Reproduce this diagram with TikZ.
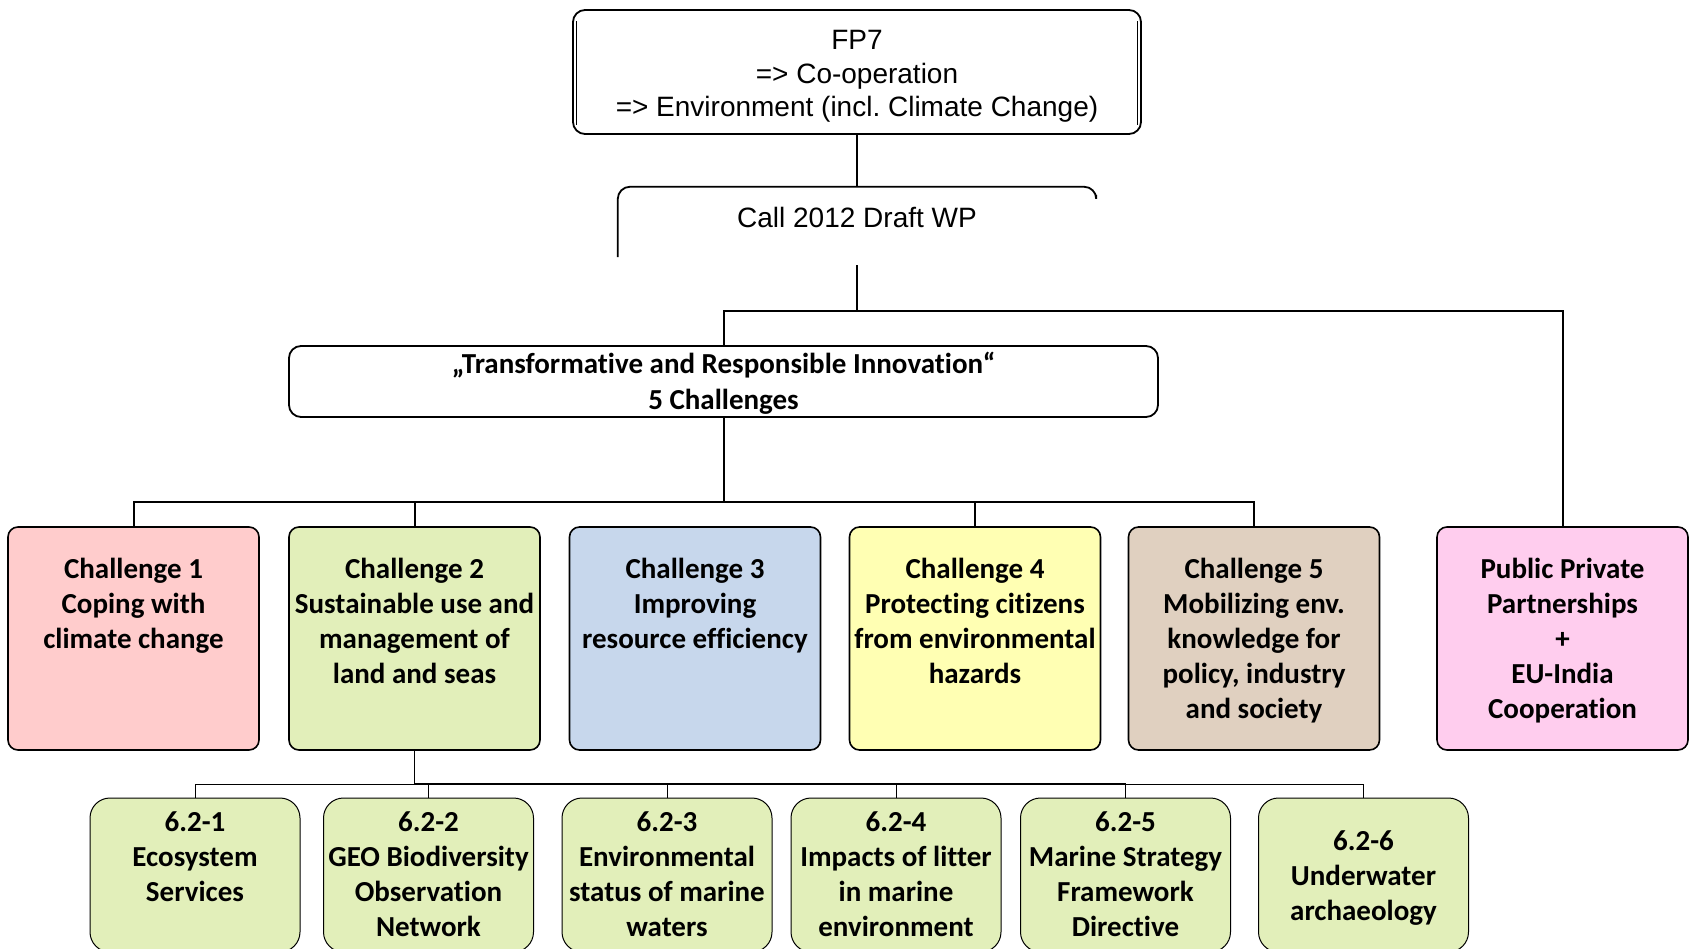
\documentclass[tikz,border=0pt]{standalone}
\usepackage{fontspec}
\setmainfont{Carlito}[Ligatures=NoCommon]
\newfontfamily\arialf{Liberation Sans}
\frenchspacing
\definecolor{cpink}{HTML}{FFCCCC}
\definecolor{cgreen}{HTML}{E2EFBA}
\definecolor{cblue}{HTML}{C7D7EC}
\definecolor{cyellow}{HTML}{FFFFB3}
\definecolor{ctan}{HTML}{E0D0C0}
\definecolor{cmag}{HTML}{FFCDEE}
\newcommand\chaltext[1]{\parbox[t][223pt][t]{251pt}{\centering\rule{0pt}{51pt}#1}}
\newcommand\subtext[2][33pt]{\parbox[t][154pt][t]{210pt}{\centering\rule{0pt}{#1}#2}}
\newcommand\shiftdown[2]{\raisebox{-#1}[\height][\depth]{\begin{tabular}{@{}c@{}}#2\end{tabular}}}
\begin{document}
\begin{tikzpicture}[x=1pt,y=-1pt,
  toptext/.style={font=\arialf\fontsize{28}{33.5}\selectfont},
  chal/.style={draw, line width=1.6pt, rounded corners=10pt, inner sep=0pt,
     font=\bfseries\fontsize{29}{35}\selectfont, fill=#1},
  sub/.style={draw, line width=1pt, rounded corners=20pt, inner sep=0pt,
     font=\bfseries\fontsize{29}{35}\selectfont, fill=cgreen},
  conn/.style={line width=2pt},
  thin/.style={line width=1pt},
  mid/.style={line width=1.8pt}]
\useasboundingbox (0,0) rectangle (1692,949);
\clip (0,0) rectangle (1692,949);

% top boxes
\node[toptext, draw, line width=1.8pt, rounded corners=12pt, minimum width=568pt, minimum height=124pt, inner sep=0pt]
  (fp7) at (857,72) {\shiftdown{4.5pt}{FP7\\=> Co-operation\\=> Environment (incl. Climate Change)}};
\draw[line width=1pt] ([xshift=4pt,yshift=-12pt]fp7.north west) -- ([xshift=4pt,yshift=10pt]fp7.south west);
\draw[line width=1pt] ([xshift=-4pt,yshift=-12pt]fp7.north east) -- ([xshift=-4pt,yshift=10pt]fp7.south east);

\node[toptext, minimum width=478pt, minimum height=60pt, inner sep=0pt]
  (call) at (857,217) {Call 2012 Draft WP};
\draw[line width=1.8pt, rounded corners=12pt] ([yshift=-10pt]call.south west) -- (call.north west) -- (call.north east) -- ([yshift=-8pt]call.north east);

% transformative
\node[draw, line width=1.8pt, rounded corners=12pt, minimum width=869pt, minimum height=71pt, inner sep=0pt,
  font=\bfseries\fontsize{29}{35.5}\selectfont]
  (trans) at (723.5,381.5) {\shiftdown{3pt}{„Transformative and Responsible Innovation“\\5 Challenges}};

% challenges
\node[chal=cpink]   (c1)  at (133.5,638.5)  {\chaltext{Challenge 1\\Coping with\\climate change}};
\node[chal=cgreen]  (c2)  at (414.5,638.5)  {\chaltext{Challenge 2\\Sustainable use and\\management of\\land and seas}};
\node[chal=cblue]   (c3)  at (695,638.5)    {\chaltext{Challenge 3\\Improving\\resource efficiency}};
\node[chal=cyellow] (c4)  at (975,638.5)    {\chaltext{Challenge 4\\Protecting citizens\\from environmental\\hazards}};
\node[chal=ctan]    (c5)  at (1254,638.5)   {\chaltext{Challenge 5\\Mobilizing env.\\knowledge for\\policy, industry\\and society}};
\node[chal=cmag]    (ppp) at (1562.5,638.5) {\chaltext{Public Private\\Partnerships\\+\\EU-India\\Cooperation}};

% sub topics
\node[sub] (b1) at (195,875)    {\subtext{6.2-1\\Ecosystem\\Services}};
\node[sub] (b2) at (428.5,875)  {\subtext{6.2-2\\GEO Biodiversity\\Observation\\Network}};
\node[sub] (b3) at (667,875)    {\subtext{6.2-3\\Environmental\\status of marine\\waters}};
\node[sub] (b4) at (896,875)    {\subtext{6.2-4\\Impacts of litter\\in marine\\environment}};
\node[sub] (b5) at (1125.5,875) {\subtext{6.2-5\\Marine Strategy\\Framework\\Directive}};
\node[sub] (b6) at (1363.5,875) {\subtext[52pt]{6.2-6\\Underwater\\archaeology}};

% connectors
\coordinate (ja) at (857,311);
\coordinate (jc) at (723.5,502);
\coordinate (jd) at (414.5,784);

\draw[conn] (fp7.south) -- (call.north);
\draw[conn] ([yshift=-18pt]call.south) -- (ja);
\draw[conn] (trans.north) |- (ja) -| (ppp.north);
\draw[conn] (trans.south) -- (jc);
\draw[conn] (c1.north) |- (jc) -| (c5.north);
\draw[conn] (c2.north) -- (c2.north |- jc);
\draw[conn] (c4.north) -- (c4.north |- jc);

\draw[mid] (c2.south) -- (jd);
\draw[thin] (b1.north) |- (jd);
\draw[mid] (jd) -| (b5.north);
\draw[thin] (b5.north |- jd) -| (b6.north);
\draw[thin] (b2.north) -- (b2.north |- jd);
\draw[thin] (b3.north) -- (b3.north |- jd);
\draw[thin] (b4.north) -- (b4.north |- jd);
\end{tikzpicture}
\end{document}
